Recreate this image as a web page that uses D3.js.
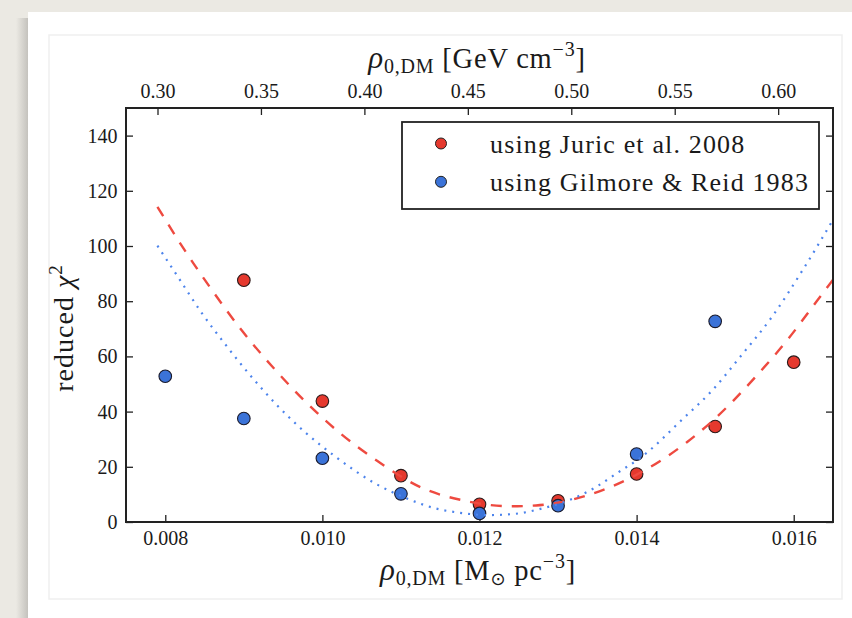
<!DOCTYPE html>
<html>
<head>
<meta charset="utf-8">
<script src="https://cdn.jsdelivr.net/npm/d3@7"></script>
<style>
  html, body { margin: 0; padding: 0; background: #ebe9e3; }
  svg { display: block; }
  text { font-family: "Liberation Serif", "Times New Roman", serif; fill: #1a1a1a; }
</style>
</head>
<body>
<svg id="chart" width="852" height="618"></svg>
<script>
// ---------------- data ----------------
const xTicks = [0.008, 0.010, 0.012, 0.014, 0.016];
const yTicks = [0, 20, 40, 60, 80, 100, 120, 140];
const topTicks = [0.30, 0.35, 0.40, 0.45, 0.50, 0.55, 0.60];
const gevPerMsunPc3 = 37.97;

const seriesNames = ["using Juric et al. 2008", "using Gilmore & Reid 1983"];

const rhoJuric = [0.009, 0.010, 0.011, 0.012, 0.013, 0.014, 0.015, 0.016];
const chiJuric = [87.6, 43.8, 16.8, 6.4, 7.7, 17.4, 34.6, 57.9];

const rhoGilmore = [0.008, 0.009, 0.010, 0.011, 0.012, 0.013, 0.014, 0.015];
const chiGilmore = [52.8, 37.5, 23.1, 10.2, 3.1, 5.9, 24.6, 72.7];

// fitted curves
const fitRhoJuric = [0.00790, 0.00826, 0.00861, 0.00896, 0.00935, 0.00977, 0.01022, 0.01071, 0.01125, 0.01183, 0.01240, 0.01272, 0.01339, 0.01399, 0.01464, 0.01498, 0.01553, 0.01592, 0.01629, 0.01650];
const fitChiJuric = [114.2, 97.9, 83.4, 69.9, 56.7, 44.0, 32.3, 21.9, 12.6, 7.6, 5.7, 6.0, 9.8, 17.0, 28.9, 37.0, 53.1, 66.0, 79.9, 87.8];

const fitRhoGilmore = [0.00790, 0.00818, 0.00846, 0.00876, 0.00908, 0.00942, 0.00978, 0.01017, 0.01067, 0.01107, 0.01143, 0.01179, 0.01209, 0.01243, 0.01281, 0.01315, 0.01349, 0.01375, 0.01406, 0.01459, 0.01496, 0.01534, 0.01572, 0.01611, 0.01650];
const fitChiGilmore = [100.1, 88.0, 75.9, 64.5, 53.2, 42.4, 32.5, 23.6, 14.0, 8.6, 5.0, 3.2, 2.5, 2.9, 5.0, 8.0, 12.8, 17.7, 23.5, 37.4, 47.6, 60.6, 74.2, 91.1, 109.5];

// ---------------- layout ----------------
const svg = d3.select("#chart");
const W = 852, H = 618;
const plot = { left: 126, top: 108, right: 833, bottom: 522 };

const colRed = "#e5392e", colBlue = "#3b73d8";
const lineRed = "#ee4a40", lineBlue = "#4d84ec";

// background paper + card
const defs = svg.append("defs");
const sh = defs.append("linearGradient").attr("id", "shadow").attr("x1", "0").attr("x2", "1");
sh.append("stop").attr("offset", "0").attr("stop-color", "#ebe9e3");
sh.append("stop").attr("offset", "1").attr("stop-color", "#c4c2bd");
svg.append("rect").attr("width", W).attr("height", H).attr("fill", "#ebe9e3");
svg.append("rect").attr("x", 16).attr("y", 18).attr("width", 12).attr("height", H).attr("fill", "url(#shadow)");
svg.append("rect").attr("x", 28).attr("y", 12).attr("width", W - 28).attr("height", H).attr("fill", "#ffffff");
svg.append("rect").attr("x", 49).attr("y", 35).attr("width", 793).attr("height", 564)
  .attr("fill", "#ffffff").attr("stroke", "#efefef").attr("stroke-width", 1.5);

defs.append("clipPath").attr("id", "clip").append("rect")
  .attr("x", plot.left).attr("y", plot.top)
  .attr("width", plot.right - plot.left).attr("height", plot.bottom - plot.top);

// ---------------- scales ----------------
const x = d3.scaleLinear().domain([0.0075, 0.0165]).range([plot.left, plot.right]);
const y = d3.scaleLinear().domain([0, 150]).range([plot.bottom, plot.top]);
const xTop = d3.scaleLinear().domain(x.domain().map(v => v * gevPerMsunPc3)).range([plot.left, plot.right]);

// ---------------- axes ----------------
function styleAxis(g) {
  g.select(".domain").remove();
  g.selectAll(".tick line").attr("stroke", "#222").attr("stroke-width", 1.3);
  g.selectAll(".tick text").attr("font-size", 20).attr("fill", "#1a1a1a")
    .attr("font-family", "Liberation Serif, serif");
}
svg.append("g").attr("transform", `translate(0,${plot.bottom})`)
  .call(d3.axisBottom(x).tickValues(xTicks).tickFormat(d3.format(".3f")).tickSizeInner(-7).tickSizeOuter(0).tickPadding(9))
  .call(styleAxis);
svg.append("g").attr("transform", `translate(0,${plot.top})`)
  .call(d3.axisTop(xTop).tickValues(topTicks).tickFormat(d3.format(".2f")).tickSizeInner(-7).tickSizeOuter(0).tickPadding(10.5))
  .call(styleAxis);
svg.append("g").attr("transform", `translate(${plot.left},0)`)
  .call(d3.axisLeft(y).tickValues(yTicks).tickFormat(d3.format("d")).tickSizeInner(-7).tickSizeOuter(0).tickPadding(8.5))
  .call(styleAxis);
svg.append("g").attr("transform", `translate(${plot.right},0)`)
  .call(d3.axisRight(y).tickValues(yTicks).tickFormat("").tickSizeInner(-7).tickSizeOuter(0))
  .call(styleAxis);

// ---------------- marks ----------------
const pts = (xs, ys) => xs.map((v, i) => [v, ys[i]]);
const scatter = svg.append("g");
scatter.selectAll("circle.red").data(pts(rhoJuric, chiJuric)).join("circle")
  .attr("class", "red").attr("cx", d => x(d[0])).attr("cy", d => y(d[1])).attr("r", 6.3)
  .attr("fill", colRed).attr("stroke", "#2a1a1a").attr("stroke-width", 1.1);
scatter.selectAll("circle.blue").data(pts(rhoGilmore, chiGilmore)).join("circle")
  .attr("class", "blue").attr("cx", d => x(d[0])).attr("cy", d => y(d[1])).attr("r", 6.3)
  .attr("fill", colBlue).attr("stroke", "#1a1a2a").attr("stroke-width", 1.1);

const line = d3.line().x(d => x(d[0])).y(d => y(d[1])).curve(d3.curveMonotoneX);
const curves = svg.append("g").attr("clip-path", "url(#clip)");
curves.append("path").datum(pts(fitRhoJuric, fitChiJuric)).attr("d", line)
  .attr("fill", "none").attr("stroke", lineRed).attr("stroke-width", 2.4).attr("stroke-dasharray", "11,10");
curves.append("path").datum(pts(fitRhoGilmore, fitChiGilmore)).attr("d", line)
  .attr("fill", "none").attr("stroke", lineBlue).attr("stroke-width", 2.2).attr("stroke-dasharray", "2,6");

// frame
svg.append("rect").attr("x", plot.left).attr("y", plot.top)
  .attr("width", plot.right - plot.left).attr("height", plot.bottom - plot.top)
  .attr("fill", "none").attr("stroke", "#222").attr("stroke-width", 2);

// ---------------- legend ----------------
const lg = svg.append("g");
lg.append("rect").attr("x", 402).attr("y", 122).attr("width", 417).attr("height", 87)
  .attr("fill", "#fff").attr("stroke", "#222").attr("stroke-width", 1.8);
const lgColors = [colRed, colBlue];
seriesNames.forEach((name, i) => {
  const cy = 143.5 + i * 38.3;
  lg.append("circle").attr("cx", 441).attr("cy", cy).attr("r", 5.5)
    .attr("fill", lgColors[i]).attr("stroke", "#222").attr("stroke-width", 1);
  lg.append("text").attr("x", 490).attr("y", cy + 9).attr("font-size", 26)
    .attr("letter-spacing", 1.15).text(name);
});

// ---------------- axis labels ----------------
const xl = svg.append("text").attr("x", 478).attr("y", 580).attr("text-anchor", "middle")
  .attr("font-size", 28.5).attr("letter-spacing", 0.8);
xl.append("tspan").attr("font-style", "italic").attr("font-size", 31).text("ρ");
xl.append("tspan").attr("font-size", 20).attr("dy", 5).text("0,DM");
xl.append("tspan").attr("dy", -5).text(" [M");
xl.append("tspan").attr("font-size", 18).attr("dy", 5).attr("font-family", "DejaVu Sans").text("⊙");
xl.append("tspan").attr("dy", -5).text(" pc");
xl.append("tspan").attr("font-size", 20).attr("dy", -12).text("−3");
xl.append("tspan").attr("dy", 12).text("]");

const tl = svg.append("text").attr("x", 477).attr("y", 68).attr("text-anchor", "middle")
  .attr("font-size", 28.5).attr("letter-spacing", 0.8);
tl.append("tspan").attr("font-style", "italic").attr("font-size", 31).text("ρ");
tl.append("tspan").attr("font-size", 20).attr("dy", 5).text("0,DM");
tl.append("tspan").attr("dy", -5).text(" [GeV cm");
tl.append("tspan").attr("font-size", 20).attr("dy", -12).text("−3");
tl.append("tspan").attr("dy", 12).text("]");

const yl = svg.append("text").attr("transform", "translate(73,328) rotate(-90)")
  .attr("text-anchor", "middle").attr("font-size", 28).attr("letter-spacing", 1);
yl.append("tspan").text("reduced ");
yl.append("tspan").attr("font-style", "italic").text("χ");
yl.append("tspan").attr("font-size", 19).attr("dy", -11).text("2");
</script>
</body>
</html>
